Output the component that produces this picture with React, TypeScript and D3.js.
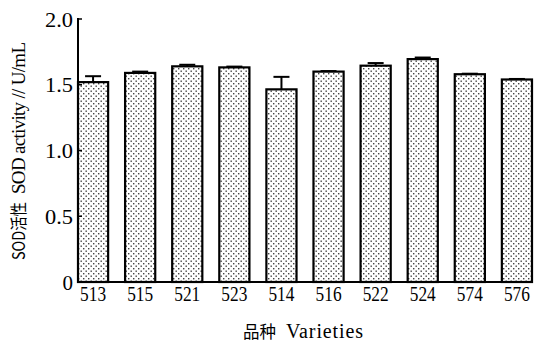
import React from "react"
import * as d3 from "d3"

// SOD activity per variety
const varieties = ["513", "515", "521", "523", "514", "516", "522", "524", "574", "576"]
const sodMeans = [1.52, 1.59, 1.64, 1.632, 1.465, 1.60, 1.645, 1.695, 1.58, 1.54]
const sodErrors = [0.045, 0.01, 0.012, 0.006, 0.095, 0.004, 0.02, 0.012, 0.004, 0.004]
const yTicks = [0, 0.5, 1.0, 1.5, 2.0]

const W = 536
const H = 344
const left = 78
const right = 532
const top = 19
const bottom = 282

const numFont = "'Liberation Serif', 'DejaVu Serif', serif"
const cjkFont = "'Noto Sans CJK SC', sans-serif"

export default function App() {
  const x = d3.scaleBand<string>()
    .domain(varieties)
    .range([left, right])
    .paddingInner(0.36)
    .paddingOuter(0)
  const y = d3.scaleLinear().domain([0, 2]).range([bottom, top])
  const bw = x.bandwidth()
  const capW = 16

  return (
    <div style={{ position: "absolute", left: 0, top: 0 }}>
      <svg width={W} height={H} style={{ display: "block", background: "#fff" }}>
        <defs>
          <pattern id="dots" width={5} height={5} patternUnits="userSpaceOnUse">
            <rect width={5} height={5} fill="#fff" />
            <rect x={0.5} y={0.5} width={1.4} height={1.4} fill="#444" />
            <rect x={3} y={3} width={1.4} height={1.4} fill="#444" />
          </pattern>
        </defs>

        {/* bars */}
        {varieties.map((v, i) => (
          <rect key={v}
            x={x(v)} y={y(sodMeans[i])}
            width={bw} height={bottom - y(sodMeans[i])}
            fill="url(#dots)" stroke="#000" strokeWidth={2.2} />
        ))}

        {/* error bars (upper only) */}
        {varieties.map((v, i) => {
          const cx = (x(v) as number) + bw / 2
          const y0 = y(sodMeans[i])
          const y1 = y(sodMeans[i] + sodErrors[i])
          return (
            <g key={"e" + v} stroke="#000" strokeWidth={2}>
              <line x1={cx} x2={cx} y1={y0} y2={y1} />
              <line x1={cx - capW / 2} x2={cx + capW / 2} y1={y1} y2={y1} />
            </g>
          )
        })}

        {/* axes */}
        <line x1={left} x2={left} y1={top - 1} y2={bottom} stroke="#000" strokeWidth={2} />
        <line x1={left - 1} x2={right} y1={bottom} y2={bottom} stroke="#000" strokeWidth={2} />
        {yTicks.map(t => (
          <g key={t}>
            <line x1={left} x2={left + 4} y1={y(t)} y2={y(t)} stroke="#000" strokeWidth={1.5} />
            <text x={73} y={y(t)} dy="0.36em" textAnchor="end"
              fontFamily={numFont} fontSize={21}
              textLength={t === 0 ? undefined : 28} lengthAdjust="spacingAndGlyphs">
              {t === 0 ? "0" : d3.format(".1f")(t)}
            </text>
          </g>
        ))}
        {varieties.map(v => (
          <text key={"l" + v} x={(x(v) as number) + bw / 2} y={301}
            textAnchor="middle" fontFamily={numFont} fontSize={21}
            textLength={26} lengthAdjust="spacingAndGlyphs">
            {v}
          </text>
        ))}

        {/* axis titles */}
        <text x={243} y={338} fontFamily={cjkFont} fontSize={17}
          textLength={33} lengthAdjust="spacingAndGlyphs">品种</text>
        <text x={286} y={338} style={{ fontFamily: numFont }} fontSize={20}
          textLength={77} lengthAdjust="spacing">Varieties</text>

        <g transform="translate(25,260) rotate(-90)">
          <text x={0} y={0} fontFamily={cjkFont} fontSize={17}
            textLength={58} lengthAdjust="spacingAndGlyphs">SOD活性</text>
          <text x={66} y={0} style={{ fontFamily: numFont }} fontSize={19}
            textLength={152} lengthAdjust="spacing">SOD activity // U/mL</text>
        </g>
      </svg>
    </div>
  )
}
